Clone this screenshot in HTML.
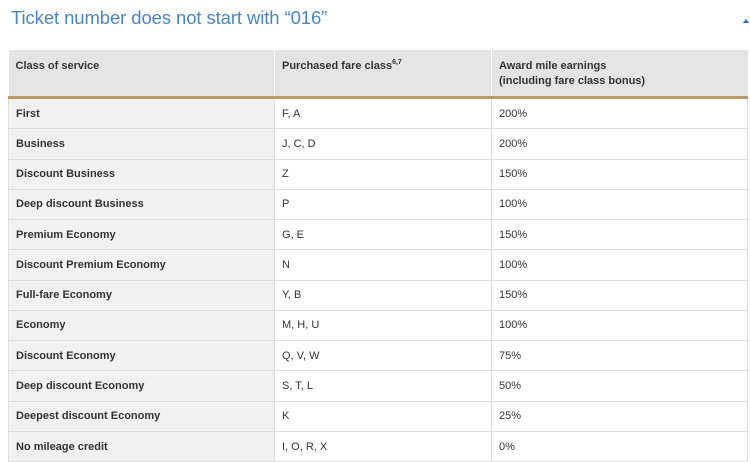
<!DOCTYPE html>
<html><head><style>
body{margin:0;width:750px;height:462px;background:#fff;font-family:"Liberation Sans",sans-serif;overflow:hidden;position:relative}
h1{position:absolute;left:11px;top:7px;margin:0;font-weight:normal;font-size:18.5px;color:#4a86c4;letter-spacing:-0.1px}
.caret{position:absolute;left:743px;top:19px;width:0;height:0;border-left:3px solid transparent;border-right:3px solid transparent;border-bottom:4px solid #2a6ebb}
table{position:absolute;left:8px;top:50px;width:740px;border-collapse:collapse;font-size:11px;color:#333}
th{background:#e4e4e4;text-align:left;vertical-align:top;font-weight:bold;padding:9px 7px 0;height:37px;border-left:1px solid #fff;border-bottom:3px solid #b89a72;line-height:15px}
th:first-child{border-left:none}
td{height:29.27px;padding:0 7px;border:1px solid #ddd;line-height:14px}
td:first-child{background:#f1f1f1;font-weight:bold;border-left:1px solid #ddd}
sup{font-size:7px;line-height:0;vertical-align:5px}
</style></head><body>
<h1>Ticket number does not start with “016”</h1>
<div class="caret"></div>
<table>
<colgroup><col style="width:266px"><col style="width:217px"><col></colgroup>
<tr><th>Class of service</th><th>Purchased fare class<sup>6,7</sup></th><th>Award mile earnings<br>(including fare class bonus)</th></tr>
<tr><td>First</td><td>F, A</td><td>200%</td></tr>
<tr><td>Business</td><td>J, C, D</td><td>200%</td></tr>
<tr><td>Discount Business</td><td>Z</td><td>150%</td></tr>
<tr><td>Deep discount Business</td><td>P</td><td>100%</td></tr>
<tr><td>Premium Economy</td><td>G, E</td><td>150%</td></tr>
<tr><td>Discount Premium Economy</td><td>N</td><td>100%</td></tr>
<tr><td>Full-fare Economy</td><td>Y, B</td><td>150%</td></tr>
<tr><td>Economy</td><td>M, H, U</td><td>100%</td></tr>
<tr><td>Discount Economy</td><td>Q, V, W</td><td>75%</td></tr>
<tr><td>Deep discount Economy</td><td>S, T, L</td><td>50%</td></tr>
<tr><td>Deepest discount Economy</td><td>K</td><td>25%</td></tr>
<tr><td>No mileage credit</td><td>I, O, R, X</td><td>0%</td></tr>
</table>
</body></html>
